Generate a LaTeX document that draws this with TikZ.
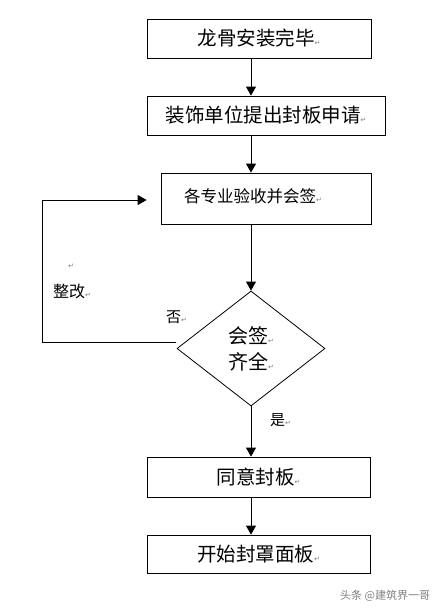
\documentclass[tikz,border=0pt]{standalone}
\usepackage{fontspec}
\newfontfamily\cjk{Noto Sans CJK SC}
\newfontfamily\dv{DejaVu Sans}
\usetikzlibrary{arrows.meta,shapes.geometric,calc}
\newcommand{\ret}{{\color{gray}\dv\fontsize{7}{7}\selectfont ↵}}
\begin{document}
\begin{tikzpicture}[x=1pt,y=-1pt,
  box/.style={draw, line width=0.8pt, inner sep=0pt, font=\cjk\fontsize{19.5}{22}\selectfont},
  arr/.style={line width=0.8pt, -{Triangle[length=9pt,width=10pt]}},
  lbl/.style={inner sep=0pt, anchor=west, font=\cjk\fontsize{15}{16}\selectfont}]
\useasboundingbox[fill=white] (0,0) rectangle (444,611);
\node[box, minimum width=224pt, minimum height=39pt] (b1) at (259,38.5) {龙骨安装完毕\ret};
\node[box, minimum width=238pt, minimum height=39pt] (b2) at (266,115.5) {装饰单位提出封板申请\ret};
\node[box, minimum width=210pt, minimum height=51pt, font=\cjk\fontsize{16.5}{18}\selectfont] (b3) at (266,198.5) {\raisebox{6pt}{\hspace{-26pt}各专业验收并会签\ret}};
\node[draw, diamond, line width=0.8pt, minimum width=148pt, minimum height=115pt, inner sep=0pt, align=center, font=\cjk\fontsize{20}{26}\selectfont] (d) at (251,348.5) {会签\ret\\齐全\ret};
\node[box, minimum width=223pt, minimum height=40pt] (b4) at (258.5,477) {同意封板\ret};
\node[box, minimum width=223pt, minimum height=38pt] (b5) at (258.5,554) {开始封罩面板\ret};
\draw[arr] (b1.south -| d.north) -- (b2.north -| d.north);
\draw[arr] (b2.south -| d.north) -- (b3.north -| d.north);
\draw[arr] (b3.south -| d.north) -- (d.north);
\draw[arr] (d.south) -- (b4.north -| d.south);
\draw[arr] (b4.south -| d.south) -- (b5.north -| d.south);
\coordinate (ls) at ($(d.west)+(-1,-6)$);
\coordinate (lx) at (42,0);
\coordinate (lt) at ($(b3.west)+(-14,1.5)$);
\draw[arr] (ls) -- (ls -| lx) |- (lt);
\node[lbl] (e) at (68,266) {\ret};
\node[lbl, font=\cjk\fontsize{16}{17}\selectfont] (zg) at (53,291) {整改\ret};
\node[lbl] (no) at (166,317) {否\ret};
\node[lbl] (yes) at (270,420) {是\ret};
\node[inner sep=0pt, anchor=west, text=gray, font=\cjk\fontsize{11}{12}\selectfont] (wm) at (340,596) {头条 @建筑界一哥};
\end{tikzpicture}
\end{document}
